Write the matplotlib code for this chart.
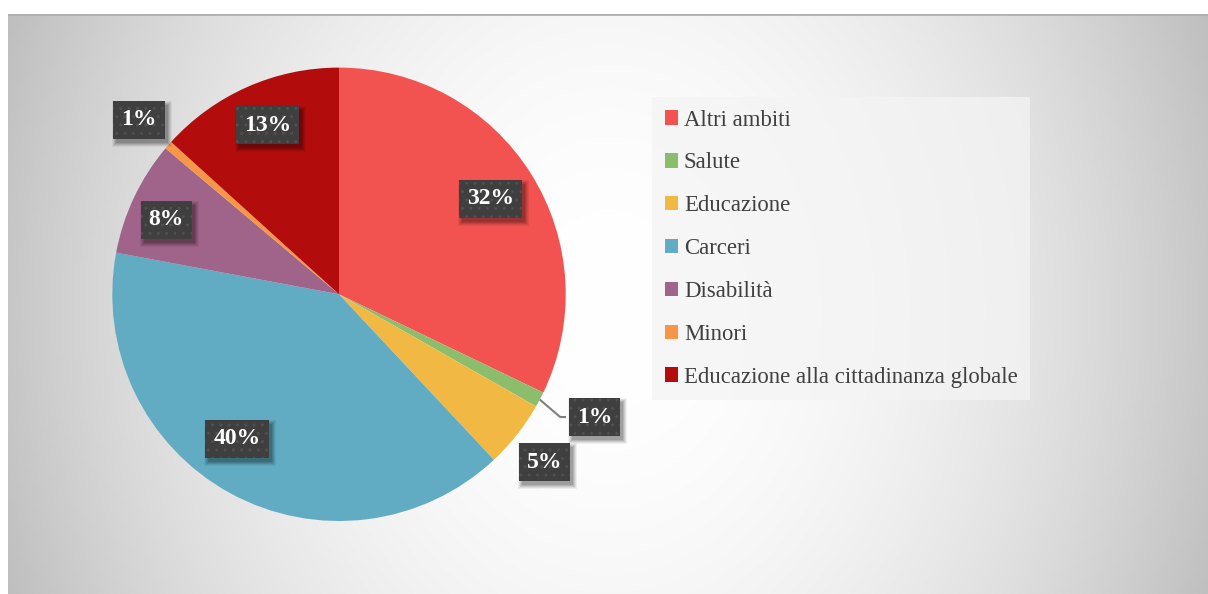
import numpy as np
import matplotlib
matplotlib.use("Agg")
import matplotlib.pyplot as plt
from matplotlib.patches import Patch, Rectangle

categories = ["Altri ambiti", "Salute", "Educazione", "Carceri", "Disabilità",
              "Minori", "Educazione alla cittadinanza globale"]
values = [32.2, 1.1, 4.8, 40.0, 8.2, 0.6, 13.3]
colors = ["#F25250", "#8CBD6C", "#F1B944", "#61ACC2", "#A0648A", "#F79646", "#B20C0C"]

# label layout: (radius factor, angle offset in degrees)
label_layout = [(0.79, 0), (1.25, -2), (1.17, 1), (0.78, 6.5), (0.83, -2), (1.17, 0), (0.81, 1)]

W, H = 1208, 594
fig = plt.figure(figsize=(W / 100, H / 100), dpi=100)
fig.patch.set_facecolor("white")

# background gradient panel
bx0, by_top = 8, 14
bg = fig.add_axes([bx0 / W, 0, 1 - bx0 / W, 1 - by_top / H])
bg.set_axis_off()
ny, nx = 290, 600
yy, xx = np.mgrid[0:ny, 0:nx]
px = bx0 + xx / (nx - 1) * (W - bx0)
py = by_top + yy / (ny - 1) * (H - by_top)
d2 = ((px - 610) / 600) ** 2 + ((py - 310) / 750) ** 2
val = 1 - 0.22 * d2
img = np.dstack([val, val, val])
bg.imshow(img, extent=[0, 1, 0, 1], aspect="auto", origin="upper", zorder=0)
bg.set_xlim(0, 1)
bg.set_ylim(0, 1)
bg.axhline(1, color="#B0B0B0", lw=2)

# pie axes
cx, cy, R = 339, 294.3, 226.7
ax = fig.add_axes([(cx - R) / W, (H - cy - R) / H, 2 * R / W, 2 * R / H])
ax.patch.set_alpha(0)
wedges, _ = ax.pie(values, colors=colors, startangle=90, counterclock=False,
                   radius=1, wedgeprops=dict(linewidth=0))
ax.set_xlim(-1, 1)
ax.set_ylim(-1, 1)
ax.set_axis_off()

total = sum(values)
texts = []
for i, (w, v) in enumerate(zip(wedges, values)):
    mid = np.deg2rad((w.theta1 + w.theta2) / 2)
    rf, off = label_layout[i]
    a = mid - np.deg2rad(off)
    x, y = rf * np.cos(a), rf * np.sin(a)
    pct = f"{round(v / total * 100):d}%"
    t = ax.text(x, y, pct, ha="center", va="center", color="white",
                fontsize=17, fontweight="bold", family="Liberation Serif", zorder=10)
    texts.append(t)
    if rf > 1.2:
        x0, y0 = np.cos(mid), np.sin(mid)
        xk = x0 + 0.09
        ax.plot([x0, xk, x - 0.12], [y0, y, y], color="#7F7F7F", lw=1.5, zorder=4,
                solid_capstyle="butt")

fig.canvas.draw()
renderer = fig.canvas.get_renderer()
for t in texts:
    bb = t.get_window_extent(renderer)
    xc, yc = (bb.x0 + bb.x1) / 2, (bb.y0 + bb.y1) / 2
    bw = bb.width + 16
    bh = 38
    # soft shadow
    for k, al in [(4, 0.05), (3, 0.07), (2, 0.09), (1, 0.1), (0, 0.12)]:
        fig.patches.append(Rectangle((xc - bw / 2 + 3 - k, yc - bh / 2 - 4 - k),
                                     bw + 2 * k, bh + 2 * k, transform=None,
                                     facecolor="black", alpha=al, linewidth=0, zorder=8))
    fig.patches.append(Rectangle((xc - bw / 2, yc - bh / 2), bw, bh, transform=None,
                                 facecolor="#3F3F3F", edgecolor="#505050",
                                 linewidth=0, hatch="..", zorder=9))

# put label texts above figure patches by re-adding them at figure level
for t in texts:
    pos = t.get_window_extent(renderer)
    fig.text((pos.x0 + pos.x1) / 2 / W, (pos.y0 + pos.y1) / 2 / H, t.get_text(),
             ha="center", va="center", color="white", fontsize=17,
             fontweight="bold", family="Liberation Serif", zorder=11)
    t.set_visible(False)

handles = [Patch(facecolor=c, edgecolor="none") for c in colors]
leg = fig.legend(handles, categories, loc="upper left",
                 bbox_to_anchor=(652 / W, 1 - 97 / H),
                 prop={"family": "Liberation Serif", "size": 16.4},
                 labelcolor="#404040", frameon=True, fancybox=False,
                 labelspacing=0.96, handlelength=0.6, handleheight=0.6,
                 handletextpad=0.25, borderpad=0.55, borderaxespad=0)
fr = leg.get_frame()
fr.set_facecolor("#F4F4F4")
fr.set_alpha(0.75)
fr.set_linewidth(0)

fig.savefig("out.png", dpi=100)
